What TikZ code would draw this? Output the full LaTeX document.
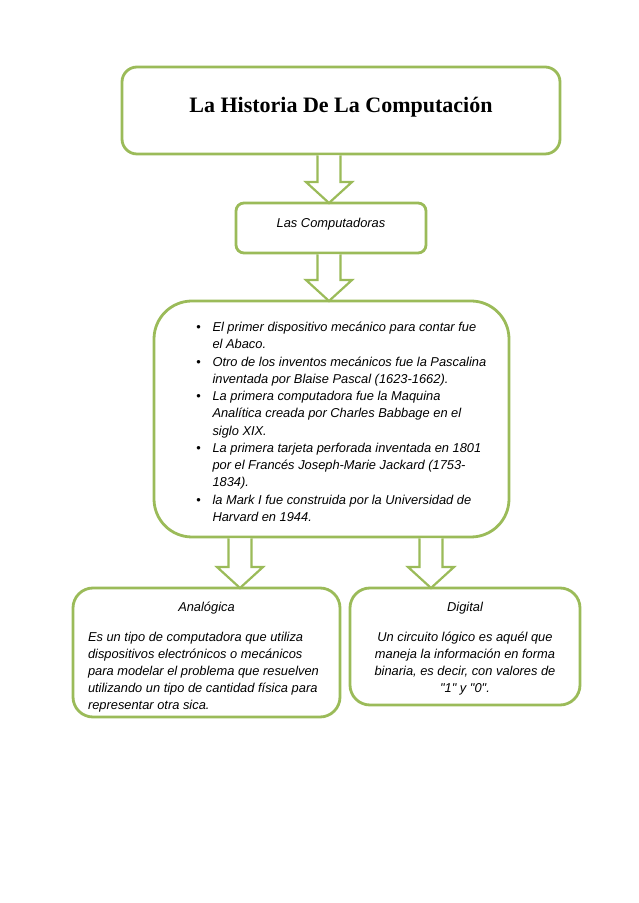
\documentclass[tikz,border=0pt]{standalone}
\usepackage{fontspec}
\setmainfont{Liberation Sans}
\newfontfamily\titlefont{Liberation Serif}
\newfontfamily\quotefont{Liberation Sans}
\usetikzlibrary{calc}
\definecolor{olivegreen}{HTML}{9BBB59}
\tikzset{
  box/.style={draw=olivegreen, line width=2.8pt, fill=white, rounded corners=#1, inner sep=0pt, outer sep=0pt},
  blockarr/.style={draw=olivegreen, line width=2.2pt, fill=white, line join=miter},
}
\newcommand\bodyfont{\fontsize{12.86pt}{17.27pt}\selectfont\itshape}
\newcommand\bul{\llap{\upshape\textbullet\hspace{11.5pt}}}
\newcommand\blockarrow[3]{%
  \draw[blockarr] let \p1=(#2.south), \p2=(#3.north) in
    (#1pt-11.5pt,\y1-1.4pt) -- (#1pt-11.5pt,\y2+21pt) -- (#1pt-23pt,\y2+21pt) --
    (#1pt,\y2) -- (#1pt+23pt,\y2+21pt) -- (#1pt+11.5pt,\y2+21pt) -- (#1pt+11.5pt,\y1-1.4pt);}
\begin{document}
\begin{tikzpicture}[x=1pt,y=1pt]
\fill[white] (0,0) rectangle (638,903);
\useasboundingbox (0,0) rectangle (638,903);

\node[box=15pt] (top) at (341,792.5) {\parbox[c][87pt][t]{438pt}{\centering\rule{0pt}{46pt}{\titlefont\bfseries\fontsize{22pt}{26pt}\selectfont La Historia De La Computación}}};

\node[box=8pt] (comp) at (331,675) {\parbox[c][50pt][t]{190pt}{\centering\bodyfont\rule{0pt}{24.5pt}Las Computadoras}};

\node[box=38pt] (main) at (331.5,484) {\parbox[c][236pt][t]{355pt}{\bodyfont\parindent=0pt\leftskip=58.5pt\rightskip=0pt plus 1fil\rule{0pt}{30.5pt}\bul El primer dispositivo mecánico para contar fue\\
el Abaco.\\
\bul Otro de los inventos mecánicos fue la Pascalina\\
inventada por Blaise Pascal (1623-1662).\\
\bul La primera computadora fue la Maquina\\
Analítica creada por Charles Babbage en el\\
siglo XIX.\\
\bul La primera tarjeta perforada inventada en 1801\\
por el Francés Joseph-Marie Jackard (1753-\\
1834).\\
\bul la Mark I fue construida por la Universidad de\\
Harvard en 1944.\par}};

\node[box=20pt] (ana) at (206.5,250.5) {\parbox[c][129pt][t]{267pt}{\bodyfont\fontsize{12.86pt}{17pt}\selectfont\parindent=0pt{\centering\rule{0pt}{24pt}Analógica\par}\vspace{12.5pt}{\raggedright\leftskip=15pt Es un tipo de computadora que utiliza\\
dispositivos electrónicos o mecánicos\\
para modelar el problema que resuelven\\
utilizando un tipo de cantidad física para\\
representar otra sica.\par}}};

\node[box=20pt] (dig) at (465,256.5) {\parbox[c][117pt][t]{230pt}{\bodyfont\fontsize{12.86pt}{17pt}\selectfont\parindent=0pt\centering\rule{0pt}{24pt}Digital\par\vspace{12.5pt}Un circuito lógico es aquél que\\
maneja la información en forma\\
binaria, es decir, con valores de\\
{\quotefont\itshape"1" y "0".}\par}};

\blockarrow{329}{top}{comp}
\blockarrow{329}{comp}{main}
\blockarrow{240}{main}{ana}
\blockarrow{431}{main}{dig}
\end{tikzpicture}
\end{document}
